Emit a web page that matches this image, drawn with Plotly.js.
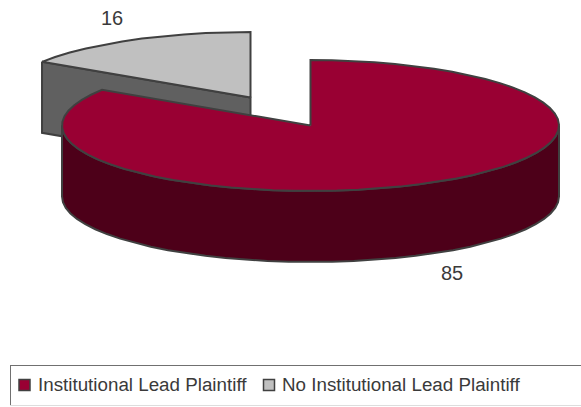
<!DOCTYPE html>
<html>
<head>
<meta charset="utf-8">
<script src="https://cdn.plot.ly/plotly-3.0.1.min.js"></script>
<style>html,body{margin:0;padding:0;background:#fff}#chart{width:581px;height:407px}</style>
</head>
<body>
<div id="chart"></div>
<script>
var categories = ["Institutional Lead Plaintiff", "No Institutional Lead Plaintiff"];
var values = [85, 16];
var topColors = ["#990033", "#C0C0C0"];
var sideColors = ["#4D0019", "#606060"];

var W = 581, H = 407;
var edge = "#404040";
var total = values[0] + values[1];
var rx = 248.5, ry = 65.5, depth = 71;
var mainC = {x: 310.5, y: 125.5};
var pulledC = {x: 250.5, y: 97.5};

function pt(c, deg, dy) {
  var a = deg * Math.PI / 180;
  return {x: c.x + rx * Math.sin(a), y: c.y - ry * Math.cos(a) + (dy || 0)};
}
function arc(c, a0, a1, dy) {
  var out = [], n = Math.max(2, Math.round(Math.abs(a1 - a0) / 5));
  for (var i = 0; i <= n; i++) out.push(pt(c, a0 + (a1 - a0) * i / n, dy));
  return out;
}
function poly(points, fill, name) {
  return {
    type: "scatter", mode: "lines", fill: "toself", fillcolor: fill, name: name,
    x: points.map(function (p) { return p.x; }),
    y: points.map(function (p) { return p.y; }),
    line: {color: edge, width: 2}, showlegend: false, hoverinfo: "name"
  };
}

var split = values[0] / total * 360;

var data = [
  // pulled-out slice: cut face, then top
  poly([pt(pulledC, split), {x: pulledC.x, y: pulledC.y}, {x: pulledC.x, y: pulledC.y + depth},
        pt(pulledC, split, depth), pt(pulledC, split)], sideColors[1], categories[1]),
  poly([{x: pulledC.x, y: pulledC.y}].concat(arc(pulledC, split, 360), [{x: pulledC.x, y: pulledC.y}]),
       topColors[1], categories[1]),
  // main slice: outer wall, then top
  poly(arc(mainC, 90, 270).concat(arc(mainC, 270, 90, depth), [pt(mainC, 90)]), sideColors[0], categories[0]),
  poly([{x: mainC.x, y: mainC.y}].concat(arc(mainC, 0, split), [{x: mainC.x, y: mainC.y}]),
       topColors[0], categories[0]),
  // legend keys
  {
    type: "scatter", mode: "markers", x: [24.5, 269], y: [385, 385], hoverinfo: "skip", showlegend: false,
    marker: {symbol: "square", size: 11, color: topColors, line: {color: edge, width: 1.5}}
  }
];

function label(x, y, text, anchor, size) {
  return {x: x, y: y, xref: "x", yref: "y", text: text, showarrow: false,
          font: {family: "Liberation Sans, Arial, sans-serif", size: size, color: "#3a3a3a"},
          xanchor: anchor || "center", yanchor: "middle"};
}

var layout = {
  width: W, height: H,
  margin: {l: 0, r: 0, t: 0, b: 0},
  paper_bgcolor: "#fff", plot_bgcolor: "#fff",
  showlegend: false,
  xaxis: {range: [0, W], visible: false, fixedrange: true},
  yaxis: {range: [H, 0], visible: false, fixedrange: true},
  annotations: [
    label(112, 18, String(values[1]), "center", 20),
    label(452, 273, String(values[0]), "center", 20),
    label(36, 384, categories[0], "left", 18.8),
    label(280, 384, categories[1], "left", 18.8)
  ],
  shapes: [
    {type: "line", x0: 10, x1: W, y0: 365.5, y1: 365.5, line: {color: "#707070", width: 1}},
    {type: "line", x0: 10.5, x1: 10.5, y0: 365, y1: 406, line: {color: "#707070", width: 1}},
    {type: "line", x0: 10, x1: W, y0: 405.5, y1: 405.5, line: {color: "#dddddd", width: 1}}
  ]
};

Plotly.newPlot("chart", data, layout, {displayModeBar: false, staticPlot: true});
</script>
</body>
</html>
